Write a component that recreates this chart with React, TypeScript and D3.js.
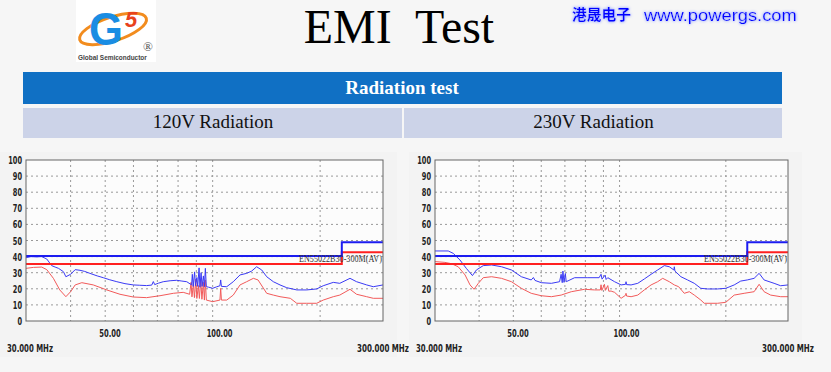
import React, { useEffect, useRef } from 'react';
import * as d3 from 'd3';

// trace readings: [MHz, dBuV/m]
const peak120: [number, number][] = [
  [30, 39.3], [31, 40], [32.1, 39.8], [33.2, 40], [34.3, 38.5], [35.4, 34.4], [36.2, 33.5], [37, 32.7],
  [38.2, 30.6], [38.8, 27.5], [40, 29], [41.2, 31.9], [42.5, 31.5], [43.8, 30.8], [45.3, 29.6], [47.5, 28],
  [49.4, 26.9], [51.5, 25.6], [53.9, 24.4], [56.8, 23.2], [59.9, 22.4], [62.5, 22.2], [65.3, 22], [67.5, 22.3],
  [68.2, 24.5], [68.8, 22.6], [70.5, 23.5], [72.7, 24.4], [76, 25], [79.3, 25.3], [82, 24.8], [84.6, 24.4],
  [86.5, 23], [87.3, 22.5], [87.7, 29], [88.2, 21.5], [89, 30.5], [89.5, 22], [90.3, 27], [90.8, 21.5],
  [91.6, 33], [92.1, 21], [92.8, 30], [93.4, 21.5], [94.2, 28], [94.8, 21.3], [95.4, 32.7], [96, 21.3],
  [97.5, 21], [100, 20.3], [102.5, 21.2], [104.8, 21.9], [105.3, 25.5], [105.8, 21.5], [109.5, 21.3],
  [114.2, 24.4], [119.3, 28.6], [124.5, 29.6], [128.6, 31], [132.8, 33.7], [137.2, 31.7], [141.7, 27.5],
  [147.9, 24.4], [154.4, 22.4], [161.2, 20.7], [172, 19.3], [183.4, 19.3], [195.6, 19.9], [204, 21.9],
  [217.7, 24], [227, 23.4], [242.5, 26.5], [253, 24.4], [270, 22.4], [281.8, 21.3], [300, 22.4],
];

const avg120: [number, number][] = [
  [30, 32.7], [31.5, 33.3], [33.2, 33.5], [34.3, 31.9], [35.8, 26.5], [37.3, 19.3], [38.8, 15.1], [40, 18.2],
  [41.2, 22.4], [43, 23.8], [46.3, 22.4], [50.5, 19.3], [55, 16.6], [59.9, 14.9], [65.3, 14.5], [71.2, 15.7],
  [77.6, 17.2], [82.7, 17.8], [86.2, 16.6], [87, 24], [87.5, 15], [88.3, 23], [88.9, 14.5], [89.7, 26],
  [90.3, 14], [91.2, 22], [91.8, 14], [92.6, 25.5], [93.3, 13.5], [94.2, 24], [94.8, 13], [95.4, 25.5],
  [96, 13], [100, 12], [104.8, 13], [105.3, 20.3], [105.8, 13], [109.5, 13], [114.2, 16.1], [119.3, 22.4],
  [124.5, 24.4], [130, 26.5], [134, 25.5], [141.7, 17.2], [147.9, 16.1], [154.4, 15.1], [165, 14.1],
  [172, 11], [183.4, 11], [195.6, 11], [204, 13], [217.7, 15.1], [227, 16.1], [242.5, 19.7], [253, 16.6],
  [270, 15.1], [281.8, 14.1], [300, 14.1],
];

const peak230: [number, number][] = [
  [30, 43.5], [32.7, 43.5], [33.8, 42], [35.3, 37.9], [36.8, 32.7], [38.3, 28.2], [39.3, 31.7], [41.1, 34.4],
  [43.4, 34.8], [46.3, 33.7], [49.4, 31.7], [52.7, 27.5], [56.2, 25.5], [57, 27], [57.6, 25.2], [60, 23.8],
  [64.1, 23.4], [67.6, 24.4], [68.3, 29], [68.8, 23.8], [69.1, 31], [69.6, 24], [70.2, 29.5], [70.6, 24.4],
  [74.6, 26.9], [81.3, 26.9], [87.5, 26.9], [88.6, 29], [89.2, 26], [91, 28.5], [91.6, 25.8], [92.6, 26.9],
  [96.8, 24.4], [101, 22.4], [104, 22.8], [104.3, 24.4], [104.7, 22.6], [107.8, 22.4], [112.6, 23.4],
  [117.5, 26.1], [122.8, 29], [128.2, 31.7], [133.9, 34.4], [138.3, 33.7], [142.5, 31.7], [142.9, 33.7],
  [143.5, 31], [149.2, 27.5], [155.8, 25.5], [162.8, 23.4], [169.9, 20.3], [177.5, 19.9], [189.4, 19.9],
  [199.9, 20.3], [211.2, 22.4], [220.4, 24.8], [230, 25.5], [240.5, 26.5], [248.5, 29.6], [256.7, 25.5],
  [274, 23.4], [286, 21.9], [300, 22.4],
];

const avg230: [number, number][] = [
  [30, 36.9], [32, 36.4], [33.4, 35.6], [34.9, 33.7], [36.5, 28.6], [37.7, 22.4], [38.7, 19.7], [39.8, 23.4],
  [41.1, 26.9], [43.4, 27.5], [46.3, 26.5], [49.4, 24.4], [52.7, 20.3], [56.2, 17.2], [60, 15.7], [64.1, 15.1],
  [68.3, 16.1], [73, 18.2], [79.6, 19.7], [84.9, 19.3], [88.2, 19.3], [88.6, 22.5], [89.1, 19], [90.6, 22.8],
  [91.1, 19], [92.6, 22], [93.2, 18.5], [94.6, 18.6], [96.8, 17.8], [101, 14.1], [104, 16], [104.3, 17.2],
  [104.7, 15.5], [107.8, 15.1], [112.6, 16.1], [117.5, 19.3], [122.8, 22.4], [128.2, 24.4], [132.5, 26.5],
  [138.3, 24.4], [142.9, 22.4], [147, 21.3], [152.5, 17.2], [157.6, 18.2], [162.8, 16.1], [169.9, 13],
  [173.7, 11], [189.4, 11], [199.9, 11.6], [211.2, 16.1], [225.4, 17.2], [240.5, 18.2], [248.5, 22.8],
  [256.7, 18.2], [267.9, 16.1], [286, 15.1], [300, 15.1],
];

// EN55022 limit lines
const peakLimit: [number, number][] = [[30, 40.4], [230, 40.4], [230, 48.9], [300, 48.9]];
const avgLimit: [number, number][] = [[30, 35.4], [230, 35.4], [230, 42.7], [300, 42.7]];

const yTicks = [0, 10, 20, 30, 40, 50, 60, 70, 80, 90, 100];
const gridFreqs = [40, 50, 60, 70, 80, 90, 100, 200];
const labelFreqs = [50, 100];
const columnTitles = ['120V Radiation', '230V Radiation'];

// squeeze a text horizontally to a given width (keeps the real bbox honest)
function fitText(t: any, ax: number, ay: number, width: number) {
  const len = t.node().getComputedTextLength() || width;
  t.attr('x', 0).attr('y', 0).attr('transform', `translate(${ax},${ay}) scale(${width / len},1)`);
}

export default function App() {
  const ref = useRef<SVGSVGElement>(null);

  useEffect(() => {
    const svg = d3.select(ref.current);
    svg.selectAll('*').remove();

    const defs = svg.append('defs');
    const glow = defs.append('filter').attr('id', 'glow').attr('x', '-10%').attr('y', '-30%').attr('width', '120%').attr('height', '160%');
    glow.append('feGaussianBlur').attr('in', 'SourceAlpha').attr('stdDeviation', 1.8).attr('result', 'b');
    glow.append('feFlood').attr('flood-color', '#a8b6ff');
    glow.append('feComposite').attr('in2', 'b').attr('operator', 'in').attr('result', 'g');
    const merge = glow.append('feMerge');
    merge.append('feMergeNode').attr('in', 'g');
    merge.append('feMergeNode').attr('in', 'g');
    merge.append('feMergeNode').attr('in', 'SourceGraphic');

    svg.append('rect').attr('width', 831).attr('height', 372).attr('fill', '#f6f6f6');

    // logo
    const logo = svg.append('g');
    logo.append('rect').attr('x', 76).attr('y', 0).attr('width', 80).attr('height', 62).attr('fill', '#fff');
    logo.append('ellipse').attr('cx', 113).attr('cy', 29).attr('rx', 35).attr('ry', 12)
      .attr('transform', 'rotate(-18 113 29)').attr('fill', 'none').attr('stroke', '#f28c1e').attr('stroke-width', 3);
    const gText = logo.append('text')
      .attr('font-family', 'Liberation Sans, Arial, sans-serif').attr('font-weight', 'bold').attr('font-size', 47)
      .attr('fill', '#1a8de3').text('G');
    fitText(gText, 89, 45, 34);
    logo.append('text').attr('x', 125).attr('y', 27).attr('font-family', 'Liberation Sans, Arial, sans-serif')
      .attr('font-weight', 'bold').attr('font-style', 'italic').attr('font-size', 22).attr('fill', '#e8421c').text('5');
    logo.append('text').attr('x', 143).attr('y', 51).attr('font-family', 'Liberation Serif, serif')
      .attr('font-size', 13).attr('fill', '#555').text('®');
    const gs = logo.append('text').attr('font-family', 'Liberation Sans, Arial, sans-serif')
      .attr('font-weight', 'bold').attr('font-size', 7).attr('fill', '#444').text('Global Semiconductor');
    fitText(gs, 78, 60, 69);

    // title
    svg.append('text').attr('x', 399).attr('y', 43).attr('text-anchor', 'middle').style('white-space', 'pre')
      .attr('font-family', 'Liberation Serif, Times New Roman, serif').attr('font-size', 48).attr('fill', '#000').text('EMI  Test');

    const site = svg.append('g').attr('filter', 'url(#glow)');
    const cn = site.append('text').attr('font-family', 'Noto Sans CJK SC, sans-serif')
      .attr('font-weight', 'bold').attr('font-size', 15).attr('fill', '#0000ff').text('港晟电子');
    fitText(cn, 572, 20, 59);
    const www = site.append('text').attr('font-family', 'Liberation Sans, Arial, sans-serif')
      .attr('font-size', 17).attr('fill', '#0000ff').text('www.powergs.com');
    fitText(www, 644, 21, 153);

    // table header
    svg.append('rect').attr('x', 23).attr('y', 72).attr('width', 759).attr('height', 32).attr('fill', '#1070c4');
    svg.append('text').attr('x', 402).attr('y', 94).attr('text-anchor', 'middle')
      .attr('font-family', 'Liberation Serif, Times New Roman, serif').attr('font-weight', 'bold').attr('font-size', 19)
      .attr('fill', '#fff').text('Radiation test');
    const cells = [[23, 402], [404, 782]];
    columnTitles.forEach((t, i) => {
      const [a, b] = cells[i];
      svg.append('rect').attr('x', a).attr('y', 108).attr('width', b - a).attr('height', 30).attr('fill', '#ccd3e8');
      svg.append('text').attr('x', (a + b) / 2 + 0.5).attr('y', 128).attr('text-anchor', 'middle')
        .attr('font-family', 'Liberation Serif, Times New Roman, serif').attr('font-size', 19).attr('fill', '#111').text(t);
    });

    const charts = [
      { left: 26, right: 383, peak: peak120, avg: avg120 },
      { left: 435, right: 788, peak: peak230, avg: avg230 },
    ];
    const top = 160;
    const bottom = 321;
    const axisFont = 'DejaVu Sans Condensed, Liberation Sans, sans-serif';

    charts.forEach((c, i) => {
      const x = d3.scaleLog().domain([30, 300]).range([c.left, c.right]);
      const y = d3.scaleLinear().domain([0, 100]).range([bottom, top]);
      const g = svg.append('g');

      g.append('rect').attr('x', c.left - 26).attr('y', 152).attr('width', c.right - c.left + 40).attr('height', 205).attr('fill', '#f3f3f3');
      g.append('rect').attr('x', c.left).attr('y', top).attr('width', c.right - c.left).attr('height', bottom - top).attr('fill', '#fcfcfc');

      g.selectAll('.hg').data(yTicks.slice(1, -1)).enter().append('line')
        .attr('x1', c.left).attr('x2', c.right).attr('y1', (d) => y(d)).attr('y2', (d) => y(d))
        .attr('stroke', '#999').attr('stroke-dasharray', '2,3');
      g.selectAll('.vg').data(gridFreqs).enter().append('line')
        .attr('x1', (d) => x(d)).attr('x2', (d) => x(d)).attr('y1', top).attr('y2', bottom)
        .attr('stroke', '#999').attr('stroke-dasharray', '2,3');

      const clipId = `clip${i}`;
      defs.append('clipPath').attr('id', clipId).append('rect')
        .attr('x', c.left).attr('y', top).attr('width', c.right - c.left).attr('height', bottom - top);

      const line = d3.line<[number, number]>().x((d) => x(d[0])).y((d) => y(d[1]));
      const plot = g.append('g').attr('clip-path', `url(#${clipId})`);
      plot.append('path').datum(c.avg).attr('d', line).attr('fill', 'none').attr('stroke', '#f25a5a').attr('stroke-width', 1);
      plot.append('path').datum(c.peak).attr('d', line).attr('fill', 'none').attr('stroke', '#3a3af5').attr('stroke-width', 1);
      plot.append('path').datum(avgLimit).attr('d', line).attr('fill', 'none').attr('stroke', '#ff2020').attr('stroke-width', 2);
      plot.append('path').datum(peakLimit).attr('d', line).attr('fill', 'none').attr('stroke', '#1c1cf0').attr('stroke-width', 2);

      const lim = g.append('text').attr('font-family', 'Liberation Serif, serif').attr('font-size', 10.5)
        .attr('fill', '#333').text('EN55022B30-300M(AV)');
      fitText(lim, c.right - 84, 262, 83);

      g.append('rect').attr('x', c.left).attr('y', top).attr('width', c.right - c.left).attr('height', bottom - top)
        .attr('fill', 'none').attr('stroke', '#666');

      const tick = (s: string, size: number) =>
        g.append('text').attr('font-family', axisFont).attr('font-weight', 'bold').attr('font-size', size)
          .attr('fill', '#222').text(s);

      yTicks.forEach((d) => {
        const s = String(d);
        const w = s.length * 4.6;
        fitText(tick(s, 11), c.left - 4 - w, y(d) + 4, w);
      });

      labelFreqs.forEach((d) => {
        const s = d3.format('.2f')(d);
        fitText(tick(s, 10), x(d) - 6, 337, s.length * 4.3);
      });

      fitText(tick('30.000 MHz', 10), c.left - 19, 352, 46);
      fitText(tick('300.000 MHz', 10), c.right + 27 - 53, 352, 52);
    });
  }, []);

  return <svg ref={ref} width={831} height={372} style={{ position: 'absolute', left: 0, top: 0 }} />;
}
